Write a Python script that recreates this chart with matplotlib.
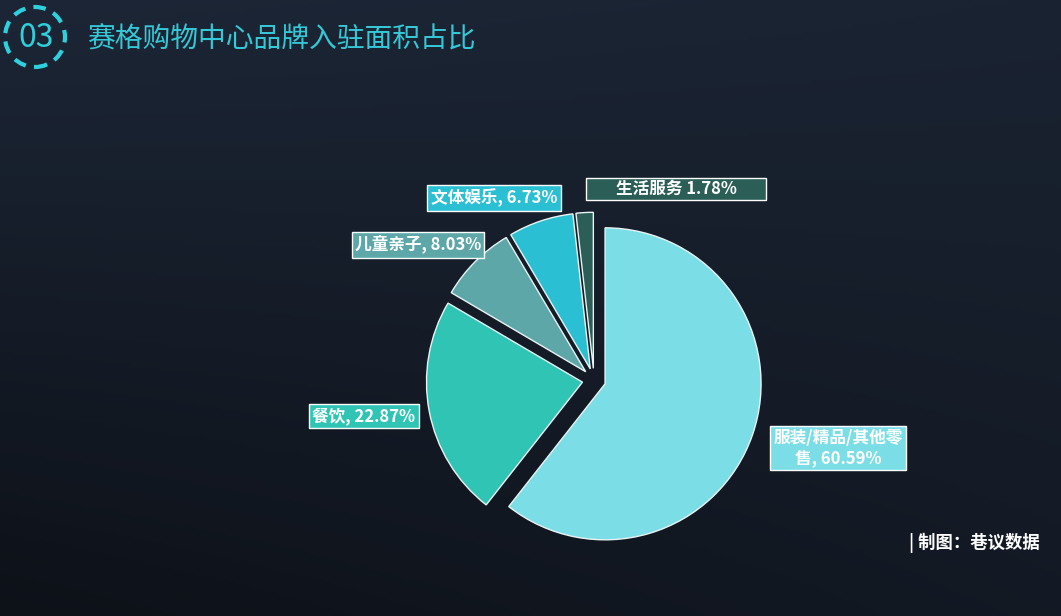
import matplotlib
matplotlib.use("Agg")
import matplotlib.pyplot as plt
import numpy as np
from matplotlib.patches import Circle, Rectangle

plt.rcParams['font.family'] = ['Noto Sans CJK SC', 'DejaVu Sans']

title = "赛格购物中心品牌入驻面积占比"
categories = ["服装/精品/其他零售", "餐饮", "儿童亲子", "文体娱乐", "生活服务"]
values = [60.59, 22.87, 8.03, 6.73, 1.78]
label_texts = ["服装/精品/其他零\n售, 60.59%", "餐饮, 22.87%", "儿童亲子, 8.03%",
               "文体娱乐, 6.73%", "生活服务 1.78%"]
colors = ["#7BDDE6", "#30C4B4", "#5EA7A9", "#2BBFD3", "#2B5E56"]
label_pos = [(838, 168), (364, 200), (418, 371), (494, 418), (676, 427)]
source = "| 制图：巷议数据"

W, H = 1061, 616
fig = plt.figure(figsize=(W / 100, H / 100), dpi=100)
ax = fig.add_axes([0, 0, 1, 1])

R = 156
wedges, _ = ax.pie(values, colors=colors, startangle=90, counterclock=False,
                   center=(594, H - 380), radius=R,
                   explode=[0.075 * R] * len(values),
                   wedgeprops=dict(edgecolor='#E8F4F4', linewidth=1.0))
for w in wedges:
    w.set_zorder(2)

ax.set_aspect('equal')
ax.axis('off')

# background gradient
yy, xx = np.mgrid[0:1:200j, 0:1:300j]
t = np.clip(0.6 * yy + 0.4 * (1 - xx) * yy + 0.15 * xx * (1 - yy), 0, 1)
top = np.array([0x1C, 0x26, 0x36]) / 255
bot = np.array([0x0D, 0x11, 0x18]) / 255
img = top[None, None, :] * (1 - t[..., None]) + bot[None, None, :] * t[..., None]
ax.imshow(img, extent=[0, W, 0, H], origin='upper', aspect='auto', zorder=0)
ax.set_xlim(0, W)
ax.set_ylim(0, H)

for i, (txt, (x, y), c) in enumerate(zip(label_texts, label_pos, colors)):
    if i == 4:
        ax.add_patch(Rectangle((586, H - 200), 180, 22, facecolor=c, edgecolor='white',
                               linewidth=1, zorder=3))
        ax.text(x, y, txt, ha='center', va='center', color='white', fontsize=12,
                fontweight='bold', zorder=4)
    else:
        ax.text(x, y, txt, ha='center', va='center', color='white', fontsize=12,
                fontweight='bold', linespacing=1.15, zorder=4,
                bbox=dict(boxstyle='square,pad=0.2', facecolor=c, edgecolor='white', linewidth=1))

# title decoration
circ = Circle((35, H - 37), 30, fill=False, edgecolor='#2FD0DE', linewidth=3,
              linestyle=(0, (3, 2)), zorder=3)
ax.add_patch(circ)
ax.text(36, H - 38, "03", ha='center', va='center', color='#2FD0DE', fontsize=23, zorder=3)
ax.text(87, H - 39, title, ha='left', va='center', color='#35C9D8', fontsize=20, zorder=3)

ax.text(1040, H - 543, source, ha='right', va='center', color='white', fontsize=12.5,
        fontweight='bold', zorder=3)

fig.savefig("out.png", dpi=100)
